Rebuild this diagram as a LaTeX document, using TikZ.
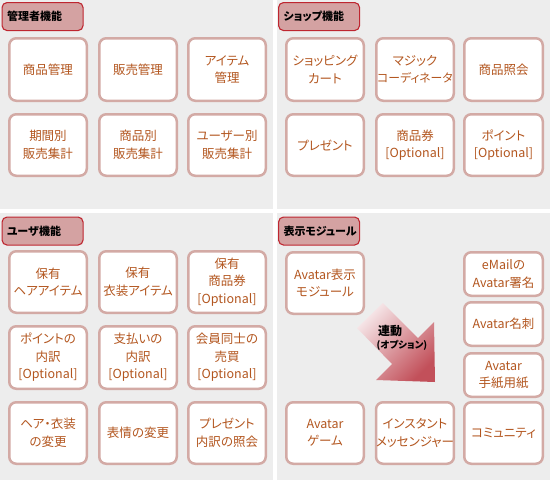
\documentclass[tikz,border=0pt]{standalone}
\usepackage{fontspec}
\setmainfont[RawFeature=+palt]{Noto Sans CJK JP}
\definecolor{panelbg}{HTML}{EDEDED}
\definecolor{boxline}{HTML}{D3AAA5}
\definecolor{boxtext}{HTML}{B3561F}
\definecolor{hdrfill}{HTML}{D4A2A2}
\definecolor{hdrline}{HTML}{BE2630}
\definecolor{arrowlight}{HTML}{F6E6E8}
\definecolor{arrowdark}{HTML}{C2505A}
\tikzset{
  panel/.style={fill=panelbg, draw=none},
  box/.style={draw=boxline, fill=white, line width=2.5pt, rounded corners=7pt,
    align=center, text=boxtext, inner sep=0pt, font=\fontsize{12.5}{17.5}\selectfont},
  hdr/.style={draw=hdrline, fill=hdrfill, line width=1.1pt, rounded corners=5pt,
    minimum height=28pt, text width=71pt, inner xsep=5pt, inner ysep=0pt, align=left,
    anchor=north west, font=\fontsize{11}{13}\bfseries\selectfont},
  lbl/.style={inner sep=0pt, text=black}
}
\newcommand{\bx}[6]{%
  \pgfmathsetmacro{\bw}{#4-#2-2.5}\pgfmathsetmacro{\bh}{#5-#3-2.5}%
  \node[box, minimum width=\bw pt, minimum height=\bh pt] (#1) at ({(#2+#4)/2},{(#3+#5)/2}) {#6};}
\begin{document}
\begin{tikzpicture}[x=1pt,y=-1pt]
\useasboundingbox (0,0) rectangle (550,480);
\fill[white] (0,0) rectangle (550,480);
% panels
\fill[panel] (0,0) rectangle (272.5,209);
\fill[panel] (277,0) rectangle (550,209);
\fill[panel] (0,212.5) rectangle (272.5,480);
\fill[panel] (277,212.5) rectangle (550,480);
% headers
\node[hdr] (h1) at (1.5,2) {管理者機能};
\node[hdr] (h2) at (278,2) {ショップ機能};
\node[hdr] (h3) at (1.5,216.5) {ユーザ機能};
\node[hdr] (h4) at (278,216.5) {表示モジュール};
% top-left
\bx{a1}{8}{37}{88}{102}{商品管理}
\bx{a2}{98}{37}{178}{102}{販売管理}
\bx{a3}{187}{37}{267}{102}{アイテム\\管理}
\bx{a4}{8}{113}{88}{177}{期間別\\販売集計}
\bx{a5}{98}{113}{178}{177}{商品別\\販売集計}
\bx{a6}{187}{113}{267}{177}{ユーザー別\\販売集計}
% top-right
\bx{b1}{285}{37}{365}{102}{ショッピング\\カート}
\bx{b2}{375}{37}{455}{102}{マジック\\{\fontsize{11.8}{17.5}\selectfont コーディネータ}}
\bx{b3}{463}{37}{544}{102}{商品照会}
\bx{b4}{285}{113}{365}{177}{プレゼント}
\bx{b5}{375}{113}{455}{177}{商品券\\{[}Optional{]}}
\bx{b6}{463}{113}{544}{177}{ポイント\\{[}Optional{]}}
% bottom-left
\bx{c1}{8}{250}{88}{314}{保有\\ヘアアイテム}
\bx{c2}{98}{250}{178}{314}{保有\\衣装アイテム}
\bx{c3}{187}{250}{267}{314}{保有\\商品券\\{[}Optional{]}}
\bx{c4}{8}{325}{88}{390}{ポイントの\\内訳\\{[}Optional{]}}
\bx{c5}{98}{325}{178}{390}{支払いの\\内訳\\{[}Optional{]}}
\bx{c6}{187}{325}{267}{390}{会員同士の\\売買\\{[}Optional{]}}
\bx{c7}{8}{401}{88}{465}{ヘア・衣装\\の変更}
\bx{c8}{98}{401}{178}{465}{表情の変更}
\bx{c9}{187}{401}{267}{465}{プレゼント\\内訳の照会}
% bottom-right
\bx{d1}{285}{251}{365}{315}{Avatar表示\\モジュール}
\bx{d2}{463}{251}{544}{297}{eMailの\\Avatar署名}
\bx{d3}{463}{301}{544}{347}{Avatar名刺}
\bx{d4}{463}{352}{544}{398}{Avatar\\手紙用紙}
\bx{d5}{285}{401}{365}{465}{Avatar\\ゲーム}
\bx{d6}{375}{401}{455}{465}{インスタント\\メッセンジャー}
\bx{d7}{463}{401}{544}{465}{コミュニティ}
% arrow
\shade[top color=arrowlight, bottom color=arrowdark, shading angle=45]
  (383,303) -- (418,338) -- (434,322) -- (435,382) -- (376,380) -- (392,364) -- (357,328) -- cycle;
\node[lbl, font=\fontsize{12}{14}\bfseries\selectfont] (t1) at (390,331) {連動};
\node[lbl, font=\fontsize{9.5}{11}\bfseries\selectfont] (t2) at (402,345) {(オプション)};
\end{tikzpicture}
\end{document}
